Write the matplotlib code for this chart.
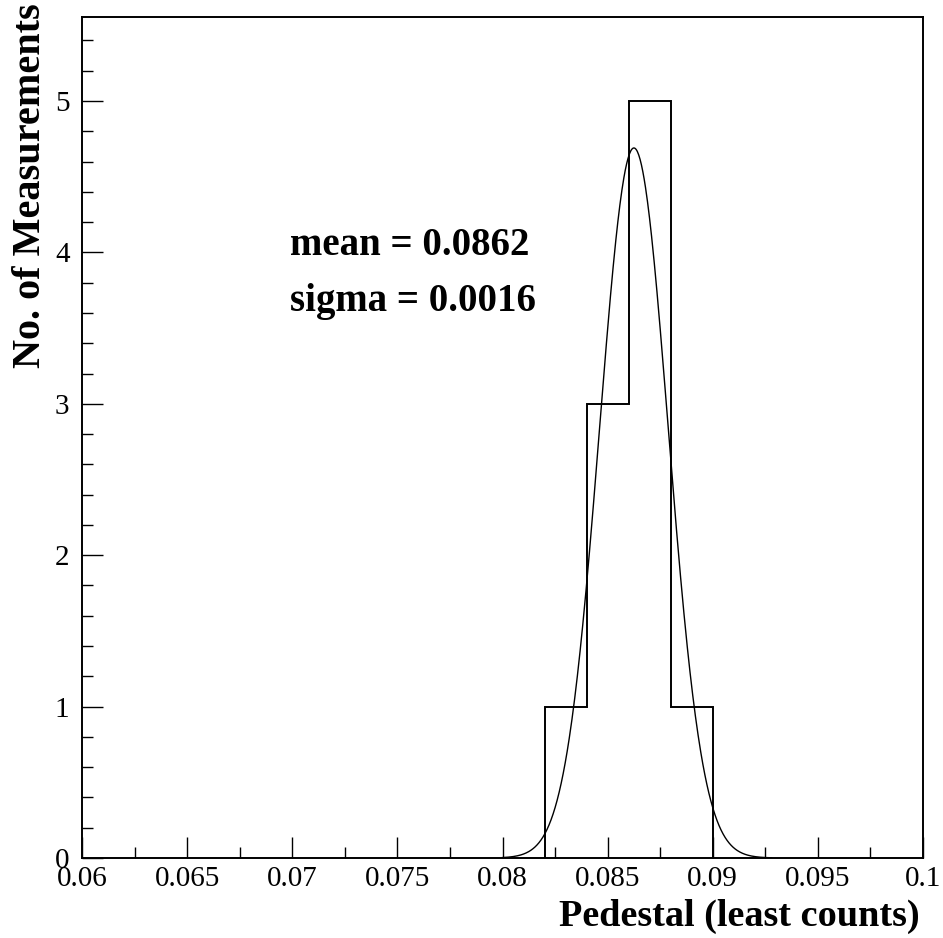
import numpy as np
import matplotlib
matplotlib.use("Agg")
import matplotlib.pyplot as plt
from matplotlib.ticker import MultipleLocator

# Data
bin_edges = [0.082, 0.084, 0.086, 0.088, 0.090]
counts = [1, 3, 5, 1]
fit_const = 4.69
fit_mean = 0.08625
fit_sigma = 0.00163
fit_range = [0.0800, 0.0928]
xticks = [0.06, 0.065, 0.07, 0.075, 0.08, 0.085, 0.09, 0.095, 0.1]
xticklabels = ["0.06", "0.065", "0.07", "0.075", "0.08", "0.085", "0.09", "0.095", "0.1"]
yticks = [0, 1, 2, 3, 4, 5]

plt.rcParams['font.family'] = ['Liberation Serif']
fig = plt.figure(figsize=(9.43, 9.38), dpi=100)
W, H = 943, 938
ax = fig.add_axes([82 / W, 1 - 858 / H, (923 - 82) / W, (858 - 17) / H])

ax.stairs(counts, bin_edges, color='black', linewidth=1.4)
xf = np.linspace(fit_range[0], fit_range[1], 400)
yf = fit_const * np.exp(-0.5 * ((xf - fit_mean) / fit_sigma) ** 2)
ax.plot(xf, yf, color='black', linewidth=1.0)

ax.set_xlim(0.06, 0.1)
ax.set_ylim(0, 5.555)
ax.set_xticks(xticks)
ax.set_xticklabels(xticklabels)
ax.set_yticks(yticks)
ax.xaxis.set_minor_locator(MultipleLocator(0.0025))
ax.yaxis.set_minor_locator(MultipleLocator(0.2))
ax.tick_params(which='both', direction='in', top=False, right=False, width=1.0, labelsize=21)
ax.tick_params(which='major', length=15)
ax.tick_params(which='minor', length=8)
ax.tick_params(axis='x', pad=6)
ax.tick_params(axis='y', pad=9)
for s in ax.spines.values():
    s.set_linewidth(1.4)

ax.text(0.0699, 3.98, "mean = 0.0862", fontsize=28, fontweight='bold', ha='left', va='baseline')
ax.text(0.0699, 3.61, "sigma = 0.0016", fontsize=28, fontweight='bold', ha='left', va='baseline')

fig.text(920 / W, 1 - 926 / H, "Pedestal (least counts)", fontsize=27.5, fontweight='bold', ha='right', va='baseline')
fig.text(31 / W, 1 - 3 / H, "No. of Measurements", fontsize=29, fontweight='bold', ha='center', va='top', rotation=90)

fig.savefig("out.png", dpi=100)
